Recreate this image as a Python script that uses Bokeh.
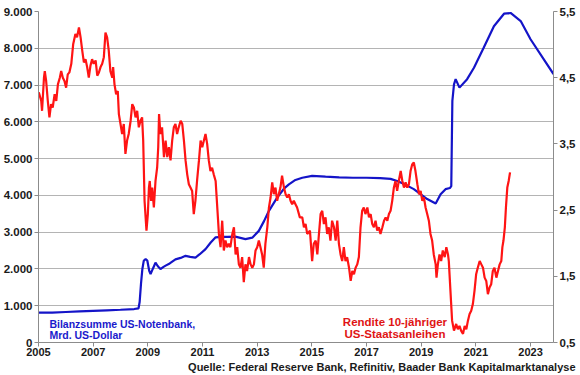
from bokeh.plotting import figure
from bokeh.models import Range1d, LinearAxis, FixedTicker, Label, Title
from bokeh.embed import file_html
from bokeh.resources import INLINE

# ---------------- data ----------------
x_ticks = [2005, 2007, 2009, 2011, 2013, 2015, 2017, 2019, 2021, 2023]
x_tick_labels = ["2005", "2007", "2009", "2011", "2013", "2015", "2017", "2019", "2021", "2023"]
left_ticks = [0, 1000, 2000, 3000, 4000, 5000, 6000, 7000, 8000, 9000]
left_tick_labels = ["0", "1.000", "2.000", "3.000", "4.000", "5.000", "6.000", "7.000", "8.000", "9.000"]
right_ticks = [0.5, 1.5, 2.5, 3.5, 4.5, 5.5]
right_tick_labels = ["0,5", "1,5", "2,5", "3,5", "4,5", "5,5"]

# Fed balance sheet total (bn USD), left axis
blue_years = [2005.0, 2005.5, 2006.0, 2006.5, 2007.0, 2007.5, 2008.0, 2008.5, 2008.66, 2008.70,
              2008.75, 2008.80, 2008.85, 2008.92, 2008.98, 2009.05, 2009.10, 2009.18, 2009.28, 2009.36,
              2009.46, 2009.56, 2009.65, 2009.80, 2010.01, 2010.20, 2010.38, 2010.55, 2010.74, 2010.90,
              2011.11, 2011.30, 2011.48, 2011.70, 2011.90, 2012.20, 2012.57, 2012.82, 2013.06, 2013.25,
              2013.43, 2013.73, 2014.00, 2014.16, 2014.40, 2014.65, 2015.01, 2015.50, 2016.00, 2016.50,
              2017.00, 2017.50, 2017.88, 2018.12, 2018.40, 2018.73, 2019.00, 2019.22, 2019.53, 2019.71,
              2019.89, 2020.05, 2020.10, 2020.14, 2020.20, 2020.26, 2020.40, 2020.68, 2020.93, 2021.29,
              2021.66, 2022.03, 2022.27, 2022.64, 2023.00, 2023.84]
blue_values = [810, 815, 830, 845, 860, 875, 890, 910, 930, 1100,
               1600, 2000, 2220, 2270, 2230, 1950, 1860, 2000, 2170, 2080,
               1995, 2050, 2090, 2150, 2260, 2300, 2356, 2330, 2310, 2400,
               2540, 2720, 2860, 2870, 2870, 2880, 2810, 2850, 3035, 3300,
               3580, 3940, 4200, 4300, 4420, 4480, 4530, 4510, 4490, 4480,
               4480, 4470, 4450, 4390, 4300, 4170, 4020, 3900, 3777, 4030,
               4170, 4200, 4250, 6570, 7020, 7160, 6930, 7160, 7470, 8020,
               8600, 8940, 8960, 8740, 8245, 7300]

# 10-year US Treasury yield (%), right axis: (year, yield)
red_series = [
    (2005.01, 4.28), (2005.10, 4.15), (2005.13, 4.00), (2005.20, 4.50), (2005.23, 4.60),
    (2005.28, 4.45), (2005.34, 4.15), (2005.40, 3.90), (2005.46, 4.10), (2005.52, 4.05),
    (2005.59, 4.25), (2005.65, 4.15), (2005.71, 4.40), (2005.78, 4.50), (2005.83, 4.60),
    (2005.89, 4.50), (2005.95, 4.45), (2006.01, 4.35), (2006.07, 4.55), (2006.13, 4.58),
    (2006.20, 4.71), (2006.27, 5.01), (2006.35, 5.16), (2006.41, 5.11), (2006.48, 5.26),
    (2006.54, 5.11), (2006.60, 4.91), (2006.66, 4.73), (2006.72, 4.78), (2006.78, 4.66),
    (2006.84, 4.50), (2006.90, 4.68), (2006.96, 4.78), (2007.02, 4.71), (2007.09, 4.76),
    (2007.15, 4.53), (2007.21, 4.58), (2007.27, 4.66), (2007.33, 4.71), (2007.39, 4.81),
    (2007.45, 5.18), (2007.51, 5.11), (2007.57, 4.91), (2007.63, 4.60), (2007.70, 4.50),
    (2007.73, 4.66), (2007.78, 4.40), (2007.84, 4.25), (2007.90, 4.30), (2007.94, 3.95),
    (2008.00, 3.80), (2008.06, 3.65), (2008.12, 3.80), (2008.18, 3.35), (2008.24, 3.55),
    (2008.30, 3.65), (2008.37, 3.85), (2008.43, 4.10), (2008.49, 4.05), (2008.55, 3.90),
    (2008.61, 4.00), (2008.67, 3.75), (2008.73, 3.85), (2008.79, 3.90), (2008.83, 3.55),
    (2008.88, 2.64), (2008.95, 2.19), (2009.00, 2.44), (2009.04, 2.84), (2009.07, 2.94),
    (2009.12, 2.64), (2009.16, 2.84), (2009.22, 2.54), (2009.28, 2.94), (2009.34, 3.14),
    (2009.38, 3.45), (2009.41, 3.95), (2009.46, 3.65), (2009.52, 3.75), (2009.59, 3.30),
    (2009.65, 3.55), (2009.71, 3.30), (2009.77, 3.45), (2009.83, 3.25), (2009.89, 3.55),
    (2009.95, 3.75), (2010.01, 3.80), (2010.07, 3.65), (2010.13, 3.75), (2010.20, 3.85),
    (2010.26, 3.80), (2010.32, 3.55), (2010.38, 3.25), (2010.44, 3.04), (2010.50, 2.89),
    (2010.56, 2.84), (2010.62, 2.79), (2010.68, 2.44), (2010.74, 2.64), (2010.80, 2.94),
    (2010.87, 3.25), (2010.93, 3.55), (2010.99, 3.45), (2011.05, 3.55), (2011.11, 3.65),
    (2011.17, 3.50), (2011.23, 3.25), (2011.29, 3.09), (2011.35, 3.14), (2011.41, 3.04),
    (2011.48, 2.94), (2011.54, 2.54), (2011.60, 2.14), (2011.66, 1.94), (2011.72, 2.34),
    (2011.78, 1.89), (2011.84, 2.04), (2011.90, 1.94), (2011.96, 1.99), (2012.02, 1.94),
    (2012.09, 2.14), (2012.15, 2.24), (2012.21, 1.83), (2012.27, 1.94), (2012.33, 1.68),
    (2012.39, 1.63), (2012.45, 1.79), (2012.51, 1.41), (2012.57, 1.68), (2012.63, 1.58),
    (2012.70, 1.79), (2012.76, 1.68), (2012.82, 1.63), (2012.88, 1.68), (2012.94, 1.89),
    (2013.00, 1.94), (2013.06, 2.04), (2013.12, 1.94), (2013.18, 1.83), (2013.24, 1.63),
    (2013.30, 1.99), (2013.37, 2.24), (2013.43, 2.54), (2013.49, 2.69), (2013.55, 2.92),
    (2013.61, 2.74), (2013.67, 2.84), (2013.73, 2.64), (2013.79, 2.74), (2013.85, 2.84),
    (2013.91, 3.02), (2013.98, 2.84), (2014.04, 2.74), (2014.10, 2.69), (2014.16, 2.74),
    (2014.22, 2.64), (2014.28, 2.59), (2014.34, 2.64), (2014.40, 2.59), (2014.46, 2.54),
    (2014.56, 2.39), (2014.65, 2.39), (2014.71, 2.24), (2014.77, 2.29), (2014.83, 2.14),
    (2014.93, 2.19), (2015.01, 1.73), (2015.07, 1.99), (2015.14, 2.04), (2015.20, 1.83),
    (2015.26, 2.14), (2015.32, 2.44), (2015.38, 2.49), (2015.44, 2.29), (2015.50, 2.39),
    (2015.56, 2.14), (2015.62, 2.24), (2015.68, 2.04), (2015.74, 2.34), (2015.81, 2.24),
    (2015.87, 2.04), (2015.93, 2.34), (2015.99, 1.99), (2016.05, 1.83), (2016.11, 1.73),
    (2016.17, 1.94), (2016.23, 1.73), (2016.29, 1.79), (2016.36, 1.63), (2016.42, 1.43),
    (2016.48, 1.58), (2016.54, 1.53), (2016.60, 1.63), (2016.66, 1.68), (2016.72, 1.79),
    (2016.78, 2.24), (2016.84, 2.49), (2016.90, 2.54), (2016.96, 2.44), (2017.03, 2.54),
    (2017.09, 2.39), (2017.15, 2.44), (2017.21, 2.29), (2017.27, 2.24), (2017.33, 2.34),
    (2017.39, 2.19), (2017.45, 2.24), (2017.51, 2.14), (2017.58, 2.24), (2017.64, 2.34),
    (2017.70, 2.39), (2017.76, 2.34), (2017.82, 2.44), (2017.88, 2.49), (2017.94, 2.64),
    (2018.00, 2.84), (2018.06, 2.94), (2018.12, 2.79), (2018.18, 2.94), (2018.25, 3.09),
    (2018.31, 2.94), (2018.37, 2.84), (2018.43, 2.92), (2018.49, 2.84), (2018.55, 2.89),
    (2018.61, 3.09), (2018.67, 3.19), (2018.73, 3.22), (2018.79, 3.09), (2018.86, 2.89),
    (2018.92, 2.74), (2018.98, 2.79), (2019.04, 2.64), (2019.10, 2.69), (2019.16, 2.54),
    (2019.22, 2.44), (2019.28, 2.34), (2019.34, 2.14), (2019.40, 2.04), (2019.46, 1.83),
    (2019.53, 1.68), (2019.56, 1.48), (2019.61, 1.68), (2019.67, 1.83), (2019.73, 1.73),
    (2019.79, 1.89), (2019.86, 1.79), (2019.92, 1.94), (2019.98, 1.83), (2020.01, 1.73),
    (2020.07, 1.28), (2020.13, 0.83), (2020.20, 0.68), (2020.28, 0.78), (2020.34, 0.70),
    (2020.40, 0.75), (2020.46, 0.68), (2020.53, 0.63), (2020.59, 0.75), (2020.65, 0.70),
    (2020.71, 0.83), (2020.77, 0.93), (2020.83, 0.98), (2020.89, 1.08), (2020.95, 1.28),
    (2021.01, 1.53), (2021.07, 1.63), (2021.14, 1.73), (2021.20, 1.68), (2021.26, 1.63),
    (2021.32, 1.48), (2021.38, 1.43), (2021.44, 1.23), (2021.50, 1.33), (2021.56, 1.38),
    (2021.62, 1.58), (2021.68, 1.63), (2021.75, 1.48), (2021.81, 1.58), (2021.87, 1.68),
    (2021.93, 1.73), (2021.97, 1.94), (2022.01, 2.04), (2022.06, 2.24), (2022.10, 2.54),
    (2022.15, 2.84), (2022.20, 2.94), (2022.25, 3.07),
]
red_years = [pt[0] for pt in red_series]
red_yield = [pt[1] for pt in red_series]

blue_label = ["Bilanzsumme US-Notenbank,", "Mrd. US-Dollar"]
red_label = ["Rendite 10-jähriger", "US-Staatsanleihen"]
source_text = "Quelle: Federal Reserve Bank, Refinitiv, Baader Bank Kapitalmarktanalyse"

# ---------------- styling ----------------
FONT = "Liberation Sans"
AXIS_GREY = "#8c8c8c"
BLUE = "#1414c8"
RED = "#ff1414"

p = figure(width=580, height=375, output_backend="svg", toolbar_location=None,
           x_range=Range1d(2005, 2023.84), y_range=Range1d(0, 9000),
           min_border_left=38, min_border_right=27, min_border_top=11, min_border_bottom=33)
p.extra_y_ranges = {"yld": Range1d(0.5, 5.5)}
p.outline_line_color = None
p.background_fill_color = "white"
p.border_fill_color = "white"

def style_axis(ax, size):
    ax.axis_line_color = AXIS_GREY
    ax.axis_line_width = 1
    ax.major_tick_line_color = AXIS_GREY
    ax.minor_tick_line_color = None
    ax.major_tick_in = 0
    ax.major_tick_out = 4
    ax.major_label_text_font = FONT
    ax.major_label_text_font_style = "bold"
    ax.major_label_text_font_size = size
    ax.major_label_text_color = "#1a1a1a"
    ax.major_label_standoff = 2

yl = p.yaxis[0]
yl.ticker = FixedTicker(ticks=left_ticks)
yl.major_label_overrides = dict(zip(left_ticks, left_tick_labels))
style_axis(yl, "11.5px")

yr = LinearAxis(y_range_name="yld", ticker=FixedTicker(ticks=right_ticks))
yr.major_label_overrides = dict(zip(right_ticks, right_tick_labels))
style_axis(yr, "11.5px")
p.add_layout(yr, "right")

xa = p.xaxis[0]
xa.ticker = FixedTicker(ticks=x_ticks)
xa.major_label_overrides = dict(zip(x_ticks, x_tick_labels))
style_axis(xa, "11px")
xa.major_label_standoff = 1

p.xgrid.visible = False
p.ygrid.grid_line_color = "#b4b4b4"
p.ygrid.grid_line_width = 1

p.line(blue_years, blue_values, line_color=BLUE, line_width=2.2)
p.line(red_years, red_yield, line_color=RED, line_width=2.2, y_range_name="yld")

blue_kw = dict(text_font=FONT, text_font_style="bold", text_font_size="10.5px",
               text_baseline="middle", text_align="left", text_color="#1a1acc")
red_kw = dict(text_font=FONT, text_font_style="bold", text_font_size="11.5px",
              text_baseline="middle", text_align="center", text_color="#e01414")
p.add_layout(Label(x=2005.40, y=495, text=blue_label[0], **blue_kw))
p.add_layout(Label(x=2005.40, y=196, text=blue_label[1], **blue_kw))
p.add_layout(Label(x=2018.04, y=549, text=red_label[0], **red_kw))
p.add_layout(Label(x=2018.04, y=223, text=red_label[1], **red_kw))

src = Title(text=source_text, align="right", offset=-22, standoff=0,
            text_font=FONT, text_font_style="bold", text_font_size="11px",
            text_color="#1a1a1a")
p.add_layout(src, "below")

open("out.html", "w").write(file_html(p, INLINE))
